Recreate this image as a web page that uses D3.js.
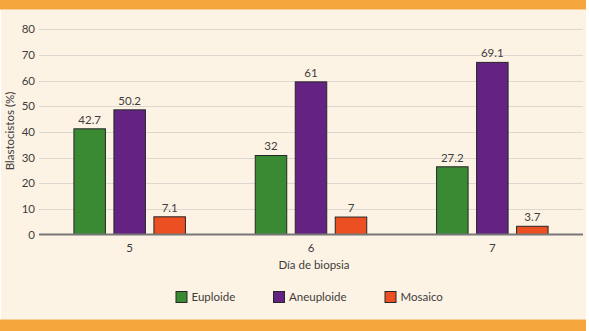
<!DOCTYPE html>
<html><head><meta charset="utf-8">
<script src="https://cdn.jsdelivr.net/npm/d3@7"></script>
<style>html,body{margin:0;padding:0;background:#fff;}svg{display:block;}</style>
</head><body>
<svg id="c" width="589" height="331"></svg>
<script>
const days = ["5", "6", "7"];
const seriesNames = ["Euploide", "Aneuploide", "Mosaico"];
const seriesColors = ["#3a8a34", "#642383", "#ec5022"];
// bar heights as drawn in the picture
const euploide = [41.2, 30.8, 26.4];
const aneuploide = [48.6, 59.5, 67.1];
const mosaico = [6.9, 6.8, 3.2];
// printed value labels
const euploideLabels = ["42.7", "32", "27.2"];
const aneuploideLabels = ["50.2", "61", "69.1"];
const mosaicoLabels = ["7.1", "7", "3.7"];
const yTicks = [0, 10, 20, 30, 40, 50, 60, 70, 80];

const seriesValues = [euploide, aneuploide, mosaico];
const seriesLabels = [euploideLabels, aneuploideLabels, mosaicoLabels];

const svg = d3.select("#c");
const font = "Lato, 'Open Sans', sans-serif";
const txt = "#3d3d3d";

// background and bands
svg.append("rect").attr("x", 1).attr("y", 0).attr("width", 585).attr("height", 331).attr("fill", "#fdf3e4");
svg.append("rect").attr("x", 0).attr("y", 0).attr("width", 586).attr("height", 9).attr("fill", "#f4a63c");
svg.append("rect").attr("x", 0).attr("y", 9).attr("width", 586).attr("height", 1).attr("fill", "#f8cf93");
svg.append("rect").attr("x", 0).attr("y", 319).attr("width", 586).attr("height", 1).attr("fill", "#f8cf93");
svg.append("rect").attr("x", 0).attr("y", 320).attr("width", 586).attr("height", 11).attr("fill", "#f4a63c");

const x0 = d3.scaleBand().domain(days).range([39, 583]).padding(0);
const x1 = d3.scaleBand().domain(seriesNames).range([0, x0.bandwidth()]).paddingInner(0.2125).paddingOuter(0.873);
const y = d3.scaleLinear().domain([0, 80]).range([234.5, 29.3]);

// grid
svg.append("g").selectAll("line").data(yTicks.filter(d => d > 0)).join("line")
  .attr("x1", 39).attr("x2", 583)
  .attr("y1", d => Math.round(y(d)) + 0.5).attr("y2", d => Math.round(y(d)) + 0.5)
  .attr("stroke", "#dcd7cf").attr("stroke-width", 1);

// y axis labels
const yAxis = svg.append("g").attr("transform", "translate(39,0)")
  .call(d3.axisLeft(y).tickValues(yTicks).tickSize(0).tickPadding(4));
yAxis.select(".domain").remove();
yAxis.selectAll("text").attr("font-family", font).attr("font-size", 11.5).attr("fill", txt);

// bars
const rows = [];
seriesNames.forEach((s, si) => days.forEach((d, di) => rows.push({day: d, s, si, v: seriesValues[si][di], label: seriesLabels[si][di]})));
svg.append("g").selectAll("rect").data(rows).join("rect")
  .attr("x", d => x0(d.day) + x1(d.s))
  .attr("width", x1.bandwidth())
  .attr("y", d => y(d.v))
  .attr("height", d => y(0) - y(d.v))
  .attr("fill", d => seriesColors[d.si])
  .attr("stroke", "#262626").attr("stroke-width", 1);

// zero line
svg.append("line").attr("x1", 39).attr("x2", 583).attr("y1", y(0)).attr("y2", y(0))
  .attr("stroke", "#777", ).attr("stroke-width", 2);

// value labels
svg.append("g").selectAll("text").data(rows).join("text")
  .attr("x", d => x0(d.day) + x1(d.s) + x1.bandwidth() / 2)
  .attr("y", d => y(d.v) - 5)
  .attr("text-anchor", "middle")
  .attr("font-family", font).attr("font-size", 11.5).attr("fill", txt)
  .text(d => d.label);

// x axis labels
const xAxis = svg.append("g").attr("transform", `translate(0,${y(0)})`)
  .call(d3.axisBottom(x0).tickSize(0).tickPadding(9));
xAxis.select(".domain").remove();
xAxis.selectAll("text").attr("font-family", font).attr("font-size", 11.5).attr("fill", txt);

// titles
svg.append("text").attr("x", 314).attr("y", 268.5).attr("text-anchor", "middle")
  .attr("font-family", font).attr("font-size", 11.5).attr("fill", txt).text("Día de biopsia");
svg.append("text").attr("transform", "translate(13.5,131) rotate(-90)").attr("text-anchor", "middle")
  .attr("font-family", font).attr("font-size", 11.5).attr("fill", txt).text("Blastocistos (%)");

// legend
const legendX = [176, 273.5, 385];
const lg = svg.append("g").selectAll("g").data(seriesNames).join("g")
  .attr("transform", (d, i) => `translate(${legendX[i]},291.5)`);
lg.append("rect").attr("width", 11).attr("height", 11)
  .attr("fill", (d, i) => seriesColors[i]).attr("stroke", "#262626").attr("stroke-width", 1);
lg.append("text").attr("x", 15.5).attr("y", 9.5)
  .attr("font-family", font).attr("font-size", 11.5).attr("fill", txt).text(d => d);
</script>
</body></html>
